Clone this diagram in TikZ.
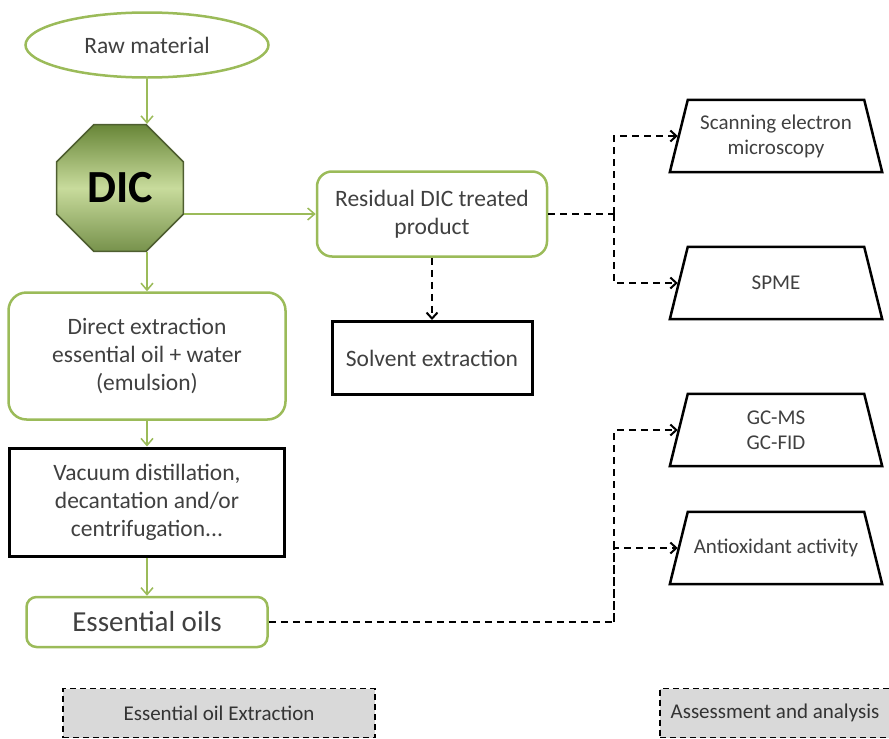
\documentclass[tikz,border=0pt]{standalone}
\usepackage{fontspec}
\setmainfont{Carlito}
\usetikzlibrary{shapes.geometric,arrows.meta}
\definecolor{dicGreen}{RGB}{155,187,89}
\definecolor{dicDark}{RGB}{104,134,56}
\definecolor{dicLight}{RGB}{200,219,156}
\definecolor{dicEdge}{RGB}{78,94,48}
\definecolor{legendGray}{RGB}{217,217,217}

\begin{document}
\begin{tikzpicture}[x=1pt, y=-1pt,
        greenbox/.style={rectangle, draw=dicGreen, line width=2.5pt, rounded corners=18pt, fill=white, align=center, font=\fontsize{23.5}{28}\selectfont, text=black!75},
        blackbox/.style={rectangle, draw=black, line width=3pt, fill=white, align=center, font=\fontsize{23.5}{28}\selectfont, text=black!75},
        trap/.style={rectangle, minimum width=212pt, minimum height=72pt, align=center, font=\fontsize{21}{25}\selectfont, text=black!75},
        trapline/.style={draw=black, line width=2.5pt, line join=miter},
        legend/.style={rectangle, draw=black, line width=1.5pt, dash pattern=on 6pt off 4pt, fill=legendGray, minimum height=49pt, font=\fontsize{21}{25}\selectfont, text=black!80},
        flow/.style={draw=dicGreen, line width=1.5pt, -{Straight Barb[length=7pt,width=12pt]}},
        dashflow/.style={draw=black, line width=2pt, dash pattern=on 7pt off 5pt},
        dasharrow/.style={dashflow, -{Straight Barb[length=6pt,width=11pt]}}
    ]
        \useasboundingbox (0,0) rectangle (889,739);

        \node[ellipse, draw=dicGreen, line width=2.5pt, minimum width=243pt, minimum height=65pt, font=\fontsize{23.5}{28}\selectfont, text=black!75] (raw) at (147,45) {Raw material};
        \node[regular polygon, regular polygon sides=8, minimum size=137pt, inner sep=0pt, draw=dicEdge, line width=1.5pt, top color=dicDark, bottom color=dicDark!90, middle color=dicLight, font=\fontsize{46}{46}\selectfont\bfseries] (dic) at (120,188) {DIC};

        \node[greenbox, minimum width=277pt, minimum height=127pt] (direct) at (147,356) {Direct extraction\\essential oil + water\\(emulsion)};
        \node[blackbox, minimum width=275pt, minimum height=108pt] (vacuum) at (147,502) {Vacuum distillation,\\decantation and/or\\centrifugation...};
        \node[greenbox, rounded corners=10pt, minimum width=241pt, minimum height=50pt, font=\fontsize{29}{34}\selectfont] (oils) at (147,622) {Essential oils};

        \node[greenbox, rounded corners=15pt, minimum width=230pt, minimum height=85pt] (residual) at (432,214) {Residual DIC treated\\product};
        \node[blackbox, minimum width=200pt, minimum height=73pt] (solvent) at (432,358) {Solvent extraction};

        \node[trap] (sem) at (776,136) {Scanning electron\\microscopy};
        \node[trap] (spme) at (776,283) {SPME};
        \node[trap] (gcms) at (776,430) {GC-MS\\GC-FID};
        \node[trap] (antiox) at (776,548) {Antioxidant activity};
        \foreach \n in {sem,spme,gcms,antiox}
            \draw[trapline] (\n.south west) -- (\n.south east) -- ([xshift=-18pt]\n.north east) -- ([xshift=18pt]\n.north west) -- cycle;

        \node[legend, minimum width=312pt] (legendext) at (219,713) {Essential oil Extraction};
        \node[legend, minimum width=230pt] (legendana) at (775,713) {Assessment and analysis};

        % extraction chain
        \draw[flow] (raw.south) -- (raw.south |- dic.north);
        \draw[flow] (dic.east |- residual.west) -- (residual.west);
        \draw[flow] (direct.north |- dic.south) -- (direct.north);
        \draw[flow] (direct.south) -- (vacuum.north);
        \draw[flow] (vacuum.south) -- (oils.north);

        % analysis links
        \path (residual.east) -- ++(66,0) coordinate (semsplit);
        \draw[dashflow] (residual.east) -- (semsplit);
        \draw[dasharrow] (semsplit) |- ([xshift=8pt]sem.west);
        \draw[dasharrow] (semsplit) |- ([xshift=8pt]spme.west);
        \draw[dasharrow] (residual.south) -- (solvent.north);

        \path (oils.east) -- ++(345.5,0) coordinate (gcsplit);
        \draw[dasharrow] (oils.east) -- (gcsplit) |- ([xshift=8pt]gcms.west);
        \draw[dasharrow] (gcsplit) |- ([xshift=8pt]antiox.west);
    \end{tikzpicture}
\end{document}
